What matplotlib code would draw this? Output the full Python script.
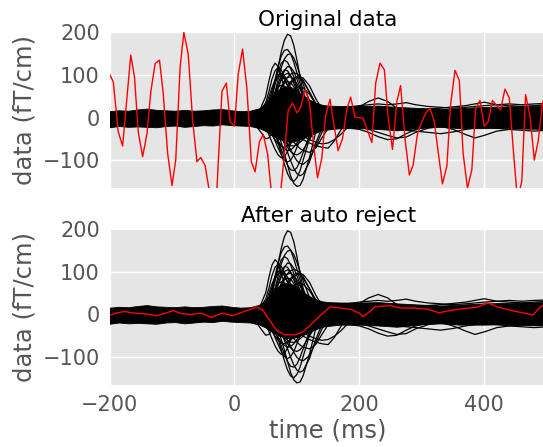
import matplotlib
matplotlib.use('Agg')
import matplotlib.pyplot as plt

# dense core of the gradiometer traces (upper / lower edge, fT/cm)
band_t = [-200, -185, -170, -155, -140, -125, -110, -95, -80, -65, -50, -35, -20,
          -5, 10, 25, 40, 50, 60, 70, 80, 90, 100, 110,
          120, 130, 140, 150, 170, 200, 230, 260, 300, 330,
          360, 400, 430, 460, 500]
band_hi = [15, 17, 16, 19, 21, 18, 17, 16, 18, 16, 17, 19, 20,
           17, 15, 16, 22, 32, 50, 65, 74, 72, 62, 52,
           42, 35, 30, 28, 27, 27, 28, 25, 22, 20,
           22, 25, 26, 27, 28]
band_lo = [-23, -20, -22, -21, -22, -23, -20, -19, -22, -20, -18, -19, -16,
           -18, -19, -20, -25, -32, -42, -50, -55, -58, -54, -48,
           -42, -36, -30, -28, -25, -25, -27, -30, -24, -22,
           -25, -25, -24, -26, -27]

# evoked response, single channels that stick out of the core
resp_t = [30, 40, 50, 55, 60, 65, 70, 75, 80, 85, 90, 95, 100, 105, 110, 120, 130, 140, 150, 160, 170, 180]
pos_traces = [
    [5, 8, 15, 25, 45, 80, 120, 155, 182, 196, 192, 170, 135, 95, 60, 20, 0, -8, -5, 0, 5, 5],
    [3, 8, 18, 30, 55, 90, 120, 145, 158, 160, 150, 130, 105, 80, 55, 20, 5, 0, 0, 5, 5, 5],
    [0, 5, 12, 20, 35, 60, 90, 118, 138, 148, 150, 140, 122, 100, 78, 40, 15, 5, 0, 0, 5, 5],
    [5, 15, 50, 85, 115, 128, 120, 95, 70, 50, 35, 20, 10, 0, -5, -10, -5, 0, 0, 5, 5, 5],
    [5, 12, 35, 60, 90, 110, 118, 112, 95, 75, 55, 38, 25, 15, 5, -5, -5, 0, 0, 0, 5, 5],
    [2, 6, 15, 28, 50, 80, 108, 128, 135, 130, 115, 95, 75, 55, 38, 15, 5, 0, 0, 5, 5, 5],
    [0, 4, 10, 18, 30, 48, 70, 92, 110, 120, 118, 108, 90, 70, 50, 22, 8, 0, 0, 0, 5, 5],
    [0, 3, 10, 15, 25, 40, 55, 70, 85, 95, 102, 105, 103, 97, 88, 60, 30, 12, 5, 0, 0, 5],
    [0, 2, 5, 8, 12, 20, 30, 42, 55, 68, 80, 88, 93, 95, 93, 75, 45, 20, 8, 2, 0, 5],
    [0, 3, 8, 14, 24, 38, 55, 70, 80, 85, 82, 72, 58, 42, 28, 10, 0, -5, 0, 0, 5, 5],
    [5, 10, 20, 30, 45, 60, 72, 76, 72, 62, 50, 38, 25, 15, 8, 0, -5, 0, 0, 5, 5, 5],
    [0, 2, 6, 10, 16, 24, 34, 45, 55, 62, 66, 66, 63, 56, 48, 30, 15, 5, 0, 0, 5, 5],
    [2, 6, 14, 22, 34, 48, 58, 62, 60, 52, 42, 32, 22, 14, 8, 0, -5, 0, 0, 5, 5, 5],
    [0, 0, 3, 6, 10, 15, 22, 30, 40, 50, 58, 65, 70, 72, 70, 55, 32, 15, 5, 0, 0, 5],
    [3, 8, 22, 40, 62, 82, 95, 98, 90, 75, 58, 42, 28, 16, 8, 0, -5, 0, 0, 5, 5, 5],
    [0, 5, 12, 22, 38, 58, 80, 100, 112, 110, 98, 80, 62, 45, 30, 12, 2, 0, 0, 5, 5, 5],
    [2, 6, 12, 20, 32, 50, 70, 88, 100, 104, 98, 86, 70, 52, 36, 14, 2, 0, 0, 5, 5, 5],
    [0, 4, 10, 16, 26, 40, 56, 72, 86, 94, 96, 90, 80, 66, 52, 26, 8, 0, 0, 0, 5, 5],
    [4, 10, 28, 48, 70, 88, 100, 104, 98, 86, 70, 54, 40, 28, 18, 5, 0, 0, 0, 5, 5, 5],
    [0, 2, 4, 8, 14, 22, 32, 44, 58, 72, 84, 92, 96, 92, 84, 60, 34, 14, 5, 0, 0, 5],
]
neg_traces = [
    [0, -3, -8, -12, -18, -28, -40, -60, -85, -112, -138, -155, -162, -160, -145, -95, -35, -10, 0, 5, 5, 0],
    [0, -5, -10, -15, -25, -40, -60, -85, -110, -132, -146, -150, -142, -125, -100, -50, -15, 0, 0, 5, 5, 0],
    [0, -3, -6, -10, -15, -22, -32, -45, -62, -82, -102, -120, -132, -137, -133, -105, -60, -25, -8, 0, 0, 0],
    [-2, -6, -15, -25, -38, -55, -72, -88, -100, -105, -100, -88, -70, -52, -35, -12, 0, 5, 5, 0, 0, 0],
    [-3, -10, -25, -40, -58, -75, -88, -95, -92, -80, -62, -45, -30, -18, -10, -5, 0, 0, 0, 0, 0, 0],
    [0, -2, -5, -8, -12, -18, -26, -36, -48, -62, -76, -90, -102, -108, -110, -98, -68, -35, -12, 0, 0, 0],
    [0, -2, -4, -6, -8, -12, -16, -22, -30, -38, -48, -58, -66, -73, -78, -82, -72, -48, -25, -10, 0, 0],
    [0, 0, -2, -4, -6, -8, -10, -14, -18, -22, -28, -34, -40, -46, -52, -60, -66, -70, -72, -55, -30, -10],
    [0, -2, -4, -6, -8, -10, -13, -16, -20, -24, -28, -32, -36, -40, -44, -52, -58, -62, -60, -52, -40, -25],
    [-10, -30, -50, -48, -38, -25, -15, -8, -3, 0, 0, 0, 0, 0, 0, 0, 0, 0, 0, 0, 0, 0],
    [0, -4, -10, -16, -25, -38, -55, -75, -95, -112, -123, -125, -118, -102, -82, -42, -12, 0, 0, 0, 0, 0],
    [-2, -5, -12, -20, -30, -42, -55, -66, -74, -78, -76, -70, -60, -48, -38, -20, -8, 0, 0, 0, 0, 0],
    [0, -3, -8, -12, -18, -26, -36, -46, -55, -62, -66, -67, -64, -58, -52, -38, -25, -18, -12, -8, -5, 0],
    [-2, -8, -18, -28, -40, -52, -62, -68, -70, -66, -58, -48, -38, -28, -20, -10, -5, 0, 0, 0, 0, 0],
    [0, -2, -6, -10, -16, -24, -34, -46, -58, -70, -80, -86, -88, -84, -76, -52, -28, -10, 0, 0, 0, 0],
]

# later, slower deflections
late_t = [150, 170, 185, 200, 215, 230, 245, 260, 275, 290, 310, 330, 350, 370, 385, 400, 420, 440, 460, 480, 500]
late_traces = [
    [15, 18, 22, 25, 38, 46, 38, 22, 15, 10, 8, 10, 12, 15, 12, 18, 15, 12, 15, 18, 20],
    [-20, -22, -25, -28, -35, -45, -52, -50, -38, -28, -22, -18, -15, -20, -22, -20, -18, -20, -22, -20, -18],
    [-15, -18, -20, -22, -28, -35, -42, -48, -46, -35, -25, -20, -18, -20, -22, -22, -20, -18, -22, -25, -22],
    [-10, -12, -15, -15, -18, -20, -22, -25, -20, -18, -15, -20, -28, -40, -48, -42, -32, -28, -25, -22, -20],
    [18, 20, 22, 25, 24, 22, 20, 18, 15, 18, 20, 22, 25, 28, 32, 36, 30, 28, 26, 28, 30],
    [-12, -15, -18, -20, -22, -24, -26, -28, -30, -32, -35, -38, -34, -28, -25, -22, -25, -28, -30, -32, -30],
    [20, 22, 25, 28, 30, 32, 30, 32, 35, 30, 26, 24, 22, 24, 26, 28, 30, 32, 30, 32, 33],
]

# the bad channel (red), before and after cleaning
red_orig_t = [-200, -194, -186, -179, -166, -160, -154, -147, -140, -134, -127, -120, -114, -107, -100,
              -94, -87, -81, -74, -67, -60, -54, -47, -40, -34, -28, -20, -13, -7, 0,
              6, 13, 20, 27, 33, 40, 46, 53, 60, 66, 73, 80, 86, 93, 100,
              106, 113, 120, 126, 133, 140, 146, 153, 160, 166, 173, 180, 186, 193, 206,
              220, 226, 233, 240, 246, 253, 260, 266, 273, 280, 286, 293, 300, 306, 313,
              320, 326, 333, 340, 346, 353, 360, 366, 373, 380, 386, 393, 400, 406, 413,
              420, 426, 433, 440, 446, 453, 460, 466, 473, 480, 486, 493, 500]
red_orig = [102, 84, -34, -67, 147, 95, -34, -92, -38, 60, 127, 135, 56, -84, -160,
            -100, 118, 200, 149, -6, -104, -94, -113, -175, -205, -165, 62, 81, -10, -20,
            102, 161, 67, -104, -128, -57, -40, -85, -190, -215, -190, -85, 17, 34, 11,
            24, 66, 36, -55, -142, -94, 5, 43, -24, -78, -50, 20, 48, 1, -2,
            -59, 80, 128, 112, 0, -75, 38, 75, -50, -135, -112, -38, -10, 10, 22,
            -10, -80, -156, -115, 30, 111, 87, -84, -166, -123, 21, 40, -20, -10, 40,
            28, 18, 67, 46, -69, -195, -150, 54, 5, -100, -57, 32, 70]
red_clean_t = [-200, -190, -176, -160, -140, -125, -110, -98, -85, -72, -53, -37, -20, -3, 8,
               20, 36, 46, 57, 68, 81, 97, 108, 121, 137, 153, 170, 186, 200, 206,
               215, 225, 250, 266, 288, 310, 327, 345, 361, 377, 388, 406, 422, 441, 457,
               478, 489, 500]
red_clean = [-3, 2, 6, 2, 0, -4, 2, 8, 1, -1, 2, -8, 2, -4, 2,
             8, 17, 8, -16, -39, -49, -49, -43, -27, -4, 17, 14, 11, 2, -6,
             4, 17, 20, 14, 14, 11, 3, 8, 12, 14, 16, 26, 16, 9, 4,
             -2, 16, 25]

plt.style.use('ggplot')
plt.rcParams['font.family'] = 'DejaVu Sans'

fig = plt.figure(figsize=(5.43, 4.47), dpi=100)
ax_top = fig.add_axes([0.2017, 0.5783, 0.8053, 0.349])
ax_bot = fig.add_axes([0.2017, 0.1387, 0.8053, 0.349])


def plot_butterfly(ax, red_t, red_v, title):
    ax.fill_between(band_t, band_lo, band_hi, color='k', lw=0.6, zorder=2)
    for tr in pos_traces + neg_traces:
        ax.plot(resp_t, tr, color='k', lw=0.9, zorder=2)
    for tr in late_traces:
        ax.plot(late_t, tr, color='k', lw=0.9, zorder=2)
    ax.plot(red_t, red_v, color='r', lw=1.0, zorder=3)

    ax.set_xlim(-200, 500)
    ax.set_ylim(-167, 197)
    ax.set_xticks([-200, 0, 200, 400])
    ax.set_yticks([-100, 0, 100, 200])
    ax.set_facecolor('#E5E5E5')
    ax.grid(True, color='white', lw=1.0, zorder=0)
    ax.set_axisbelow(True)
    for s in ax.spines.values():
        s.set_visible(False)
    ax.tick_params(length=0, pad=7, labelsize=15, colors='#555555')
    ax.set_ylabel('data (fT/cm)', fontsize=17.5, color='#555555', labelpad=4)
    ax.set_title(title, fontsize=15.5, color='black', pad=5)


plot_butterfly(ax_top, red_orig_t, red_orig, 'Original data')
ax_top.tick_params(axis='x', labelbottom=False)

plot_butterfly(ax_bot, red_clean_t, red_clean, 'After auto reject')
ax_bot.set_xlabel('time (ms)', fontsize=17.5, color='#555555', labelpad=3)

fig.savefig('out.png', dpi=100)
